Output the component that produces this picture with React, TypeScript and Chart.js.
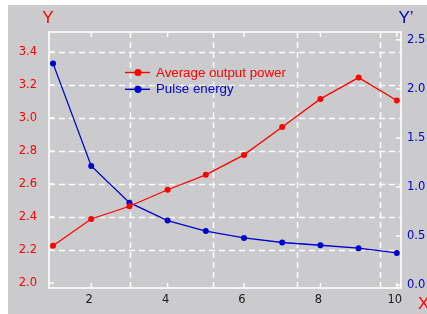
import React, { useEffect, useRef } from "react";
import { Chart, registerables } from "chart.js";

Chart.register(...registerables);

const xValues = [1, 2, 3, 4, 5, 6, 7, 8, 9, 10];
const avgPower = [2.226, 2.388, 2.465, 2.565, 2.655, 2.776, 2.945, 3.115, 3.244, 3.105];
const pulseEnergy = [2.26, 1.215, 0.84, 0.657, 0.55, 0.48, 0.434, 0.406, 0.376, 0.328];
const xTicks = [2, 4, 6, 8, 10];
const yLeftTicks = [2.0, 2.2, 2.4, 2.6, 2.8, 3.0, 3.2, 3.4];
const yRightTicks = [0.0, 0.5, 1.0, 1.5, 2.0, 2.5];
const xGridLines = [3.02, 5.2, 7.38, 9.56];
const legendLabels = ["Average output power", "Pulse energy"];

const RED = "#ff0000";
const BLUE = "#0000cc";
const BG = "#cbcbcd";
const TICK_FONT = { family: "DejaVu Sans", size: 11.5 };

const framePlugin = {
  id: "framePlugin",
  beforeDatasetsDraw(chart: any) {
    const { ctx, chartArea: a, scales } = chart;
    const x = scales.x, yl = scales.y, yr = scales.y1;
    ctx.save();
    ctx.strokeStyle = "rgba(255,255,255,0.95)";
    ctx.lineWidth = 1.5;
    ctx.setLineDash([6, 4]);
    yLeftTicks.forEach((v) => {
      if (v <= 2.0) return;
      const py = Math.round(yl.getPixelForValue(v)) + 0.5;
      ctx.beginPath();
      ctx.moveTo(a.left, py);
      ctx.lineTo(a.right, py);
      ctx.stroke();
    });
    xGridLines.forEach((v) => {
      const px = Math.round(x.getPixelForValue(v)) + 0.5;
      ctx.beginPath();
      ctx.moveTo(px, a.top);
      ctx.lineTo(px, a.bottom);
      ctx.stroke();
    });
    ctx.setLineDash([]);
    ctx.strokeStyle = "#ffffff";
    ctx.lineWidth = 1.6;
    ctx.strokeRect(a.left, a.top, a.right - a.left, a.bottom - a.top);
    const tl = 5;
    ctx.lineWidth = 1.4;
    xTicks.forEach((v) => {
      const px = x.getPixelForValue(v);
      ctx.beginPath();
      ctx.moveTo(px, a.bottom);
      ctx.lineTo(px, a.bottom - tl);
      ctx.moveTo(px, a.top);
      ctx.lineTo(px, a.top + tl);
      ctx.stroke();
    });
    yLeftTicks.forEach((v) => {
      const py = yl.getPixelForValue(v);
      ctx.beginPath();
      ctx.moveTo(a.left, py);
      ctx.lineTo(a.left + tl, py);
      ctx.stroke();
    });
    yRightTicks.forEach((v) => {
      const py = yr.getPixelForValue(v);
      ctx.beginPath();
      ctx.moveTo(a.right, py);
      ctx.lineTo(a.right - tl, py);
      ctx.stroke();
    });
    ctx.restore();
  },
  afterDraw(chart: any) {
    const { ctx } = chart;
    ctx.save();
    ctx.textBaseline = "middle";
    ctx.font = "17px 'Liberation Sans'";
    ctx.textAlign = "center";
    ctx.fillStyle = RED;
    ctx.fillText("Y", 40, 13);
    ctx.fillStyle = BLUE;
    ctx.fillText("Y\u2019", 398, 13);
    ctx.textAlign = "left";
    ctx.fillStyle = RED;
    ctx.fillText("X", 410, 299);
    // legend
    const rows = [
      { label: legendLabels[0], color: RED, y: 67.5 },
      { label: legendLabels[1], color: BLUE, y: 84.3 },
    ];
    ctx.font = "13.3px 'Liberation Sans'";
    rows.forEach((r) => {
      ctx.strokeStyle = r.color;
      ctx.lineWidth = 1.4;
      ctx.beginPath();
      ctx.moveTo(117, r.y);
      ctx.lineTo(142, r.y);
      ctx.stroke();
      ctx.fillStyle = r.color;
      ctx.beginPath();
      ctx.arc(130, r.y, 3.6, 0, Math.PI * 2);
      ctx.fill();
      ctx.fillText(r.label, 148, r.y + 0.5);
    });
    ctx.restore();
  },
};

export default function App() {
  const ref = useRef<HTMLCanvasElement>(null);
  useEffect(() => {
    if (!ref.current) return;
    const chart = new Chart(ref.current, {
      type: "line",
      data: {
        datasets: [
          {
            label: legendLabels[0],
            data: xValues.map((x, i) => ({ x, y: avgPower[i] })),
            borderColor: RED,
            backgroundColor: RED,
            borderWidth: 1.3,
            pointRadius: 3,
            pointBorderWidth: 0,
            yAxisID: "y",
          },
          {
            label: legendLabels[1],
            data: xValues.map((x, i) => ({ x, y: pulseEnergy[i] })),
            borderColor: BLUE,
            backgroundColor: BLUE,
            borderWidth: 1.3,
            pointRadius: 3,
            pointBorderWidth: 0,
            yAxisID: "y1",
          },
        ],
      },
      options: {
        responsive: false,
        animation: false,
        layout: { padding: { top: 27, left: 0, right: 0, bottom: 0 } },
        plugins: { legend: { display: false }, tooltip: { enabled: false } },
        scales: {
          x: {
            type: "linear",
            min: 0.895,
            max: 10.11,
            grid: { display: false, drawTicks: false },
            border: { display: false },
            afterBuildTicks: (s: any) => { s.ticks = xTicks.map((v) => ({ value: v })); },
            afterFit: (s: any) => { s.height = 26; },
            ticks: { color: "#1a1a1a", font: TICK_FONT, padding: 5, labelOffset: -2, maxRotation: 0, callback: (v: any) => String(v) },
          },
          y: {
            type: "linear",
            position: "left",
            min: 1.97,
            max: 3.52,
            grid: { display: false, drawTicks: false },
            border: { display: false },
            afterBuildTicks: (s: any) => { s.ticks = yLeftTicks.map((v) => ({ value: v })); },
            afterFit: (s: any) => { s.width = 41; },
            ticks: { color: RED, font: TICK_FONT, padding: 12, callback: (v: any) => Number(v).toFixed(1) },
          },
          y1: {
            type: "linear",
            position: "right",
            min: -0.03,
            max: 2.58,
            grid: { display: false, drawTicks: false },
            border: { display: false },
            afterBuildTicks: (s: any) => { s.ticks = yRightTicks.map((v) => ({ value: v })); },
            afterFit: (s: any) => { s.width = 26; },
            ticks: { color: BLUE, font: TICK_FONT, padding: 6, callback: (v: any) => Number(v).toFixed(1) },
          },
        },
      },
      plugins: [framePlugin],
    } as any);
    return () => chart.destroy();
  }, []);
  return (
    <div style={{ position: "fixed", left: 8, top: 5, width: 419, height: 309, background: BG, overflow: "hidden" }}>
      <canvas ref={ref} width={419} height={309} style={{ display: "block" }} />
    </div>
  );
}
